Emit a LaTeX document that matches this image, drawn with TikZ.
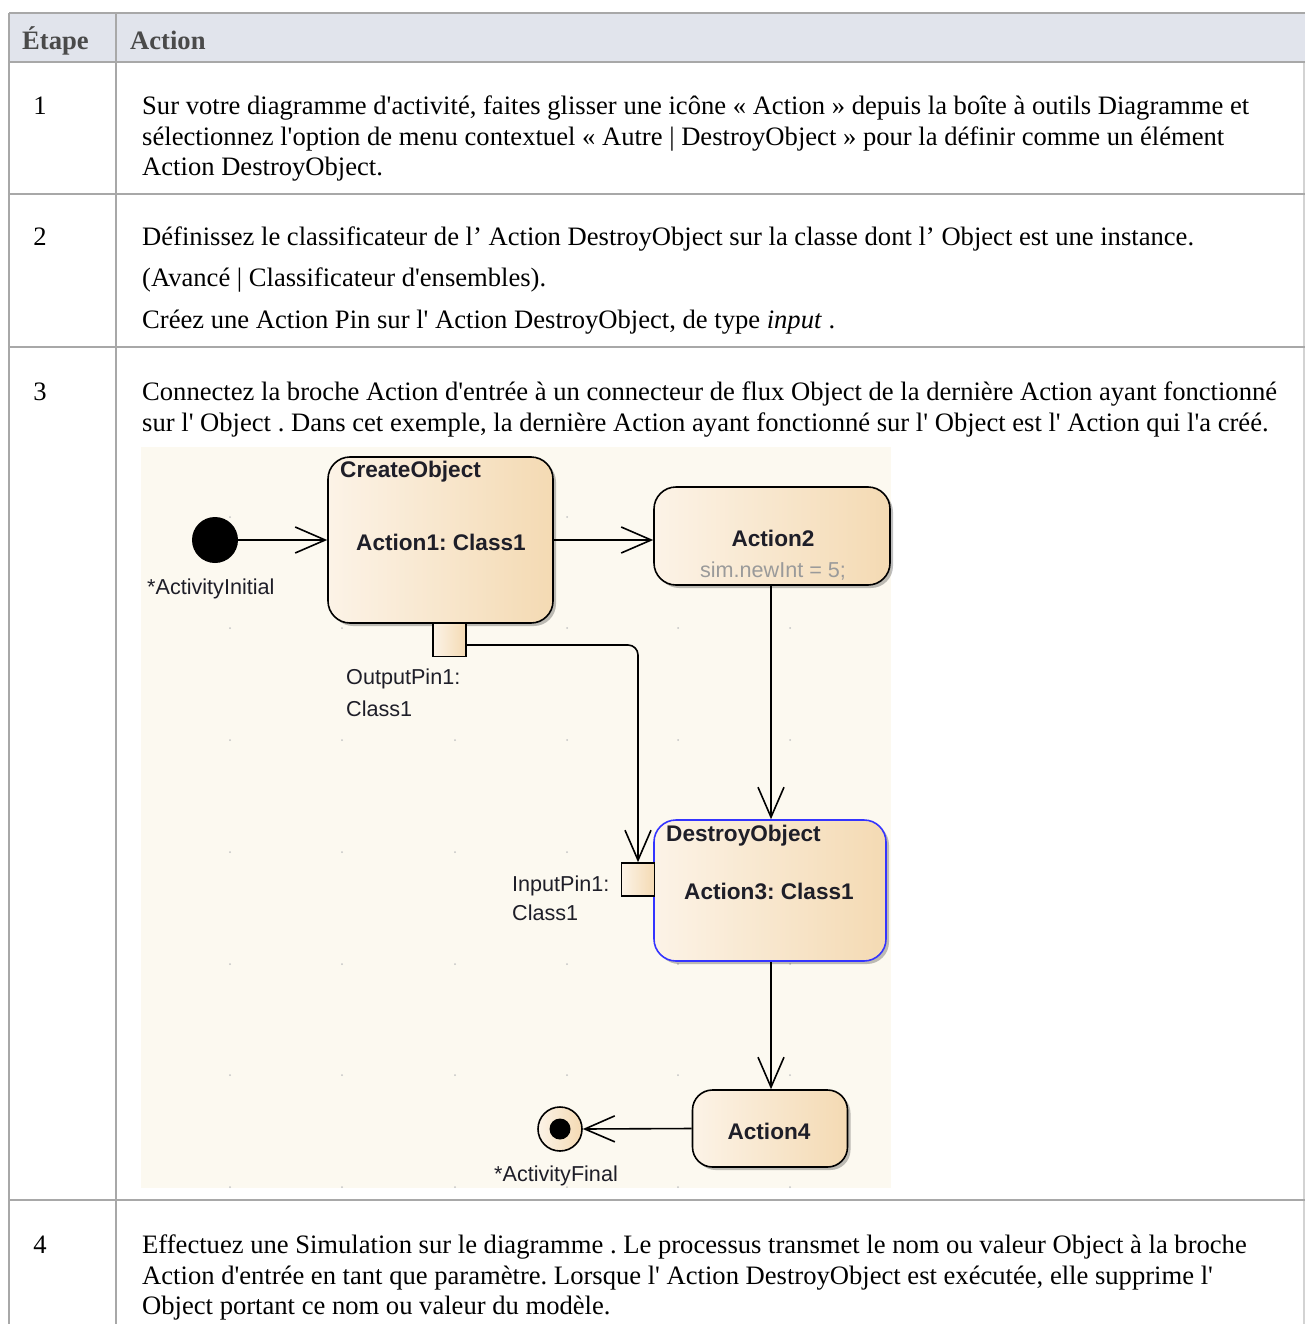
\documentclass[tikz,border=0pt]{standalone}
\usepackage{fontspec}
\newfontfamily\tabfont{Liberation Serif}
\newfontfamily\diafont{Liberation Sans}
\usetikzlibrary{arrows.meta,shadows}

\definecolor{hdrbg}{HTML}{E1E4EC}
\definecolor{rule}{HTML}{A8A8A8}
\definecolor{hdrtxt}{HTML}{4A4A4A}
\definecolor{canvas}{HTML}{FCF9F0}
\definecolor{actL}{HTML}{FCF3E7}
\definecolor{actR}{HTML}{F4DAB3}
\definecolor{selblue}{HTML}{3434FF}
\definecolor{inktxt}{HTML}{1E1E28}
\definecolor{codetxt}{HTML}{9A9A9A}
\definecolor{griddot}{HTML}{C4C4C4}

\tikzset{
  tx/.style={font={\tabfont\fontsize{26.6pt}{31pt}\selectfont}, anchor=base west, inner sep=0pt},
  num/.style={font={\tabfont\fontsize{26.6pt}{31pt}\selectfont}, anchor=base, inner sep=0pt},
  hd/.style={font={\tabfont\bfseries\fontsize{26.6pt}{31pt}\selectfont}, text=hdrtxt, anchor=base west, inner sep=0pt},
  actbox/.style={draw=black, line width=1.6pt, rounded corners=22pt, left color=actL, right color=actR,
    drop shadow={shadow xshift=3pt, shadow yshift=-3pt, opacity=0.25, fill=black}},
  pinbox/.style={draw=black, line width=1.6pt, left color=actL, right color=actR, minimum size=33pt, inner sep=0pt},
  boldlbl/.style={font={\diafont\bfseries\fontsize{22.6pt}{25pt}\selectfont}, text=inktxt, inner sep=0pt},
  plainlbl/.style={font={\diafont\fontsize{21.6pt}{24pt}\selectfont}, text=inktxt, inner sep=0pt, anchor=west},
  flow/.style={line width=1.6pt, -{Straight Barb[length=30pt,width=26pt,line width=1.6pt]}},
}

\begin{document}
\frenchspacing
\begin{tikzpicture}[x=1pt,y=-1pt]
\useasboundingbox (0,0) rectangle (1305,1324);
\fill[white] (0,0) rectangle (1305,1324);

% table frame
\fill[hdrbg] (9,13) rectangle (1305,62);
\draw[rule, line width=2pt] (9,13) -- (1305,13);
\draw[rule, line width=2pt] (9,13) -- (9,1324);
\draw[rule, line width=2pt] (116,13) -- (116,1324);
\draw[rule!50, line width=1.2pt] (1304,62) -- (1304,1324);
\foreach \yy in {62,194,347,1200}
  \draw[rule, line width=2.6pt] (9,\yy) -- (1305,\yy);

% header
\node[hd] (hstep) at (22,50) {Étape};
\node[hd] (hact) at (130,50) {Action};

% step 1
\node[num] (n1) at (40,115) {1};
\node[tx] (r1a) at (142,115) {Sur votre diagramme d'activité, faites glisser une icône « Action » depuis la boîte à outils Diagramme et};
\node[tx] (r1b) at (142,146) {sélectionnez l'option de menu contextuel « Autre | DestroyObject » pour la définir comme un élément};
\node[tx] (r1c) at (142,176) {Action DestroyObject.};

% step 2
\node[num] (n2) at (40,246) {2};
\node[tx] (r2a) at (142,246) {Définissez le classificateur de l’ Action DestroyObject sur la classe dont l’ Object est une instance.};
\node[tx] (r2b) at (142,287) {(Avancé | Classificateur d'ensembles).};
\node[tx] (r2c) at (142,328) {Créez une Action Pin sur l' Action DestroyObject, de type \textit{input} .};

% step 3
\node[num] (n3) at (40,400) {3};
\node[tx] (r3a) at (142,400) {Connectez la broche Action d'entrée à un connecteur de flux Object de la dernière Action ayant fonctionné};
\node[tx] (r3b) at (142,431) {sur l' Object . Dans cet exemple, la dernière Action ayant fonctionné sur l' Object est l' Action qui l'a créé.};

% step 4
\node[num] (n4) at (40,1253) {4};
\node[tx] (r4a) at (142,1253) {Effectuez une Simulation sur le diagramme . Le processus transmet le nom ou valeur Object à la broche};
\node[tx] (r4b) at (142,1284) {Action d'entrée en tant que paramètre. Lorsque l' Action DestroyObject est exécutée, elle supprime l'};
\node[tx] (r4c) at (142,1314) {Object portant ce nom ou valeur du modèle.};

% activity diagram canvas
\fill[canvas] (141,447) rectangle (891,1188);
\foreach \gx in {230,342,455,567,678,790}
  \foreach \gy in {517,628,740,852,964,1075,1187}
    \fill[griddot] (\gx,\gy) circle (1pt);

% nodes
\node[circle, fill=black, minimum size=46pt, inner sep=0pt] (init) at (215,540) {};
\node[plainlbl] (initL) at (147,589) {*ActivityInitial};

\node[actbox, minimum width=225pt, minimum height=166pt] (create) at (440.5,540) {};
\node[boldlbl, anchor=west] (createT) at (340,472) {CreateObject};
\node[boldlbl] (createL) at (441,542) {Action1: Class1};
\node[pinbox] (opin) at (449.5,640) {};
\node[plainlbl] (opinA) at (346,679) {OutputPin1:};
\node[plainlbl] (opinB) at (346,709) {Class1};

\node[actbox, minimum width=236pt, minimum height=98pt] (act2) at (772,536) {};
\node[boldlbl] (act2L) at (773,538) {Action2};
\node[plainlbl, anchor=center, text=codetxt] (act2C) at (773,571) {sim.newInt = 5;};

\node[actbox, draw=selblue, minimum width=232pt, minimum height=141pt] (destroy) at (770,890.5) {};
\node[boldlbl, anchor=west] (destroyT) at (666,836) {DestroyObject};
\node[boldlbl] (destroyL) at (769,891) {Action3: Class1};
\node[pinbox] (ipin) at (638,879.5) {};
\node[plainlbl] (ipinA) at (512,886) {InputPin1:};
\node[plainlbl] (ipinB) at (512,913) {Class1};

\node[actbox, rounded corners=20pt, minimum width=155pt, minimum height=77pt] (act4) at (770,1128.5) {};
\node[boldlbl] (act4L) at (769,1131) {Action4};

\node[circle, draw=black, line width=1.6pt, left color=actL, right color=actR, minimum size=44pt, inner sep=0pt] (final) at (560,1129) {};
\fill[black] (final.center) circle (10.5pt);
\node[plainlbl, anchor=center] (finalL) at (556,1176) {*ActivityFinal};

% control and object flows
\draw[flow] (init.east) -- (create.west);
\draw[flow] (create.east) -- (create.east -| act2.west);
\draw[flow] (act2.south -| 771,0) -- (771,0 |- destroy.north);
\draw[flow, rounded corners=10pt] ([yshift=-5pt]opin.east) -- ([yshift=-5pt]opin.east -| ipin.north) -- (ipin.north);
\draw[flow] (destroy.south -| 771,0) -- (771,0 |- act4.north);
\draw[flow] (act4.west) -- (final.east);
\end{tikzpicture}
\end{document}
